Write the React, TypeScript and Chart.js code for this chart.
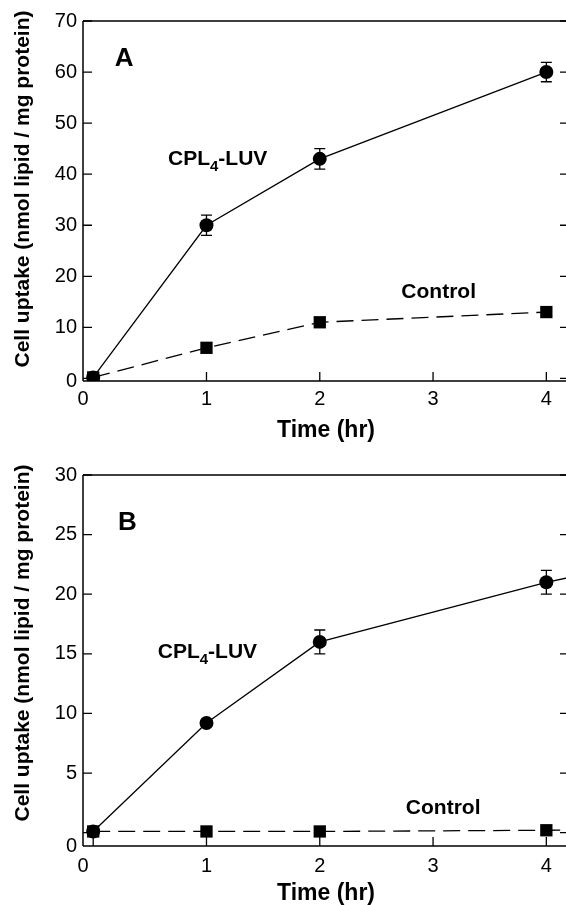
import React, { useEffect, useRef } from "react";
import { Chart, registerables } from "chart.js";

Chart.register(...registerables);

// ---------- data ----------
const timeHrA = [0, 1, 2, 4];
const cplLuvA = [0.2, 30, 43, 60];
const cplLuvAErr = [0, 2, 2, 1.9];
const controlA = [0.2, 6, 11, 13];

const timeHrB = [0, 1, 2, 4, 6];
const cplLuvB = [0.1, 9.2, 16, 21, 25];
const cplLuvBErr = [0, 0, 1, 1, 0];
const controlB = [0.1, 0.1, 0.1, 0.2, 0.3];

const xTicks = [0, 1, 2, 3, 4];
const yTicksA = [0, 10, 20, 30, 40, 50, 60, 70];
const yTicksB = [0, 5, 10, 15, 20, 25, 30];

const FONT = "'Liberation Sans', Arial, Helvetica, sans-serif";
const TICK_LEN = 9;

type PanelCfg = {
  letter: string;
  time: number[];
  cpl: number[];
  cplErr: number[];
  control: number[];
  yMin: number;
  yMax: number;
  yTicks: number[];
  letterPos: [number, number];
  cplPos: [number, number];
  controlPos: [number, number];
  height: number;
  padTop: number;
  xAxisHeight: number;
  xTitlePadBottom: number;
  xTickPad: number;
};

const panelA: PanelCfg = {
  letter: "A",
  time: timeHrA,
  cpl: cplLuvA,
  cplErr: cplLuvAErr,
  control: controlA,
  yMin: -0.5,
  yMax: 70,
  yTicks: yTicksA,
  letterPos: [0.19, 63],
  cplPos: [0.66, 43.2],
  controlPos: [2.72, 17.3],
  height: 450,
  padTop: 21,
  xAxisHeight: 69,
  xTitlePadBottom: 7.5,
  xTickPad: 6,
};

const panelB: PanelCfg = {
  letter: "B",
  time: timeHrB,
  cpl: cplLuvB,
  cplErr: cplLuvBErr,
  control: controlB,
  yMin: -1.12,
  yMax: 30,
  yTicks: yTicksB,
  letterPos: [0.22, 26.2],
  cplPos: [0.57, 15.3],
  controlPos: [2.76, 2.2],
  height: 455,
  padTop: 25,
  xAxisHeight: 59,
  xTitlePadBottom: 0,
  xTickPad: 8,
};

function makePlugin(cfg: PanelCfg) {
  return {
    id: "panelDecor" + cfg.letter,
    beforeDatasetsDraw(chart: any) {
      const { ctx, chartArea: ca, scales } = chart;
      const xs = scales.x;
      const ys = scales.y;
      ctx.save();
      ctx.strokeStyle = "#000";
      ctx.lineWidth = 1.5;
      ctx.beginPath();
      ctx.moveTo(ca.left, ca.top);
      ctx.lineTo(ca.right, ca.top);
      ctx.moveTo(ca.left, ca.top);
      ctx.lineTo(ca.left, ca.bottom);
      ctx.moveTo(ca.left, ca.bottom);
      ctx.lineTo(ca.right, ca.bottom);
      ctx.moveTo(ca.right, ca.top);
      ctx.lineTo(ca.right, ca.bottom);
      ctx.stroke();
      ctx.lineWidth = 1.3;
      ctx.beginPath();
      for (const v of xTicks) {
        const px = xs.getPixelForValue(v);
        ctx.moveTo(px, ca.bottom);
        ctx.lineTo(px, ca.bottom - TICK_LEN);
      }
      for (const v of cfg.yTicks) {
        const py = ys.getPixelForValue(v);
        ctx.moveTo(ca.left, py);
        ctx.lineTo(ca.left + TICK_LEN, py);
        ctx.moveTo(ca.right, py);
        ctx.lineTo(ca.right - TICK_LEN, py);
      }
      ctx.stroke();
      ctx.restore();
    },
    afterDatasetsDraw(chart: any) {
      const { ctx, chartArea: ca, scales } = chart;
      const xs = scales.x;
      const ys = scales.y;
      ctx.save();
      // error bars
      ctx.strokeStyle = "#000";
      ctx.lineWidth = 1.3;
      ctx.beginPath();
      cfg.time.forEach((t, i) => {
        const e = cfg.cplErr[i];
        if (!e) return;
        const px = xs.getPixelForValue(t);
        const pTop = ys.getPixelForValue(cfg.cpl[i] + e);
        const pBot = ys.getPixelForValue(cfg.cpl[i] - e);
        ctx.moveTo(px, pTop);
        ctx.lineTo(px, pBot);
        ctx.moveTo(px - 5.5, pTop);
        ctx.lineTo(px + 5.5, pTop);
        ctx.moveTo(px - 5.5, pBot);
        ctx.lineTo(px + 5.5, pBot);
      });
      ctx.stroke();

      ctx.fillStyle = "#000";
      // panel letter
      ctx.font = `bold 26px ${FONT}`;
      ctx.textAlign = "left";
      ctx.textBaseline = "alphabetic";
      ctx.fillText(
        cfg.letter,
        xs.getPixelForValue(cfg.letterPos[0]),
        ys.getPixelForValue(cfg.letterPos[1]) + 0.36 * 26
      );

      // CPL4-LUV label
      const size = 21;
      let cx = xs.getPixelForValue(cfg.cplPos[0]);
      const base = ys.getPixelForValue(cfg.cplPos[1]) + 0.36 * size;
      ctx.font = `bold ${size}px ${FONT}`;
      ctx.fillText("CPL", cx, base);
      cx += ctx.measureText("CPL").width;
      ctx.font = `bold 15px ${FONT}`;
      ctx.fillText("4", cx, base + 6);
      cx += ctx.measureText("4").width;
      ctx.font = `bold ${size}px ${FONT}`;
      ctx.fillText("-LUV", cx, base);

      // Control label
      ctx.fillText(
        "Control",
        xs.getPixelForValue(cfg.controlPos[0]),
        ys.getPixelForValue(cfg.controlPos[1]) + 0.36 * size
      );

      // y-axis title
      ctx.translate(23, ca.top + 168);
      ctx.rotate(-Math.PI / 2);
      ctx.font = `bold 21px ${FONT}`;
      ctx.textAlign = "center";
      ctx.textBaseline = "middle";
      ctx.fillText("Cell uptake (nmol lipid / mg protein)", 0, 0);
      ctx.restore();
    },
  };
}

function buildConfig(cfg: PanelCfg): any {
  const cplData = cfg.time.map((t, i) => ({ x: t, y: cfg.cpl[i] }));
  const ctlData = cfg.time.map((t, i) => ({ x: t, y: cfg.control[i] }));
  return {
    type: "line",
    data: {
      datasets: [
        {
          label: "CPL4-LUV",
          data: cplData,
          borderColor: "#000",
          backgroundColor: "#000",
          borderWidth: 1.3,
          pointStyle: "circle",
          pointRadius: 7,
          pointBorderWidth: 0,
          pointBackgroundColor: "#000",
          tension: 0,
          fill: false,
        },
        {
          label: "Control",
          data: ctlData,
          borderColor: "#000",
          backgroundColor: "#000",
          borderWidth: 1.3,
          borderDash: [17, 8],
          pointStyle: "rect",
          pointRadius: 8.7,
          pointBorderWidth: 0,
          pointBackgroundColor: "#000",
          tension: 0,
          fill: false,
        },
      ],
    },
    options: {
      responsive: false,
      devicePixelRatio: 1,
      animation: false,
      layout: { padding: { top: cfg.padTop, right: 31, left: 0, bottom: 0 } },
      plugins: {
        legend: { display: false },
        tooltip: { enabled: false },
      },
      scales: {
        x: {
          type: "linear",
          min: -0.09,
          max: 4.2,
          grid: { display: false, drawTicks: false },
          border: { display: false },
          afterBuildTicks: (s: any) => {
            s.ticks = [{ value: s.min }, ...xTicks.map((v) => ({ value: v }))];
          },
          afterFit: (s: any) => {
            s.height = cfg.xAxisHeight;
          },
          ticks: {
            autoSkip: false,
            maxRotation: 0,
            padding: cfg.xTickPad,
            color: "#000",
            font: { family: FONT, size: 20 },
            callback: function (this: any, value: number) {
              if (value === this.min) return "0";
              if (value === 0) return "";
              return String(value);
            },
          },
          title: {
            display: true,
            text: "Time (hr)",
            color: "#000",
            font: { family: FONT, size: 23, weight: "bold", lineHeight: 1 },
            padding: { top: 0, bottom: cfg.xTitlePadBottom },
          },
        },
        y: {
          type: "linear",
          min: cfg.yMin,
          max: cfg.yMax,
          grid: { display: false, drawTicks: false },
          border: { display: false },
          afterBuildTicks: (s: any) => {
            s.ticks = [{ value: s.min }, ...cfg.yTicks.map((v) => ({ value: v }))];
          },
          afterFit: (s: any) => {
            s.width = 83;
          },
          ticks: {
            autoSkip: false,
            padding: 6,
            color: "#000",
            font: { family: FONT, size: 20 },
            callback: function (this: any, value: number) {
              if (value === this.min) return "0";
              if (value === 0) return "";
              return String(value);
            },
          },
          title: { display: false },
        },
      },
    },
    plugins: [makePlugin(cfg)],
  };
}

function Panel({ cfg, top }: { cfg: PanelCfg; top: number }) {
  const ref = useRef<HTMLCanvasElement | null>(null);
  useEffect(() => {
    if (!ref.current) return;
    const chart = new Chart(ref.current, buildConfig(cfg));
    return () => chart.destroy();
  }, [cfg]);
  return (
    <canvas
      ref={ref}
      width={600}
      height={cfg.height}
      style={{ position: "absolute", left: 0, top, width: 600, height: cfg.height }}
    />
  );
}

export default function App() {
  return (
    <div
      style={{
        position: "fixed",
        left: 0,
        top: 0,
        width: 566,
        height: 905,
        overflow: "hidden",
        background: "#fff",
      }}
    >
      <Panel cfg={panelA} top={0} />
      <Panel cfg={panelB} top={450} />
    </div>
  );
}
